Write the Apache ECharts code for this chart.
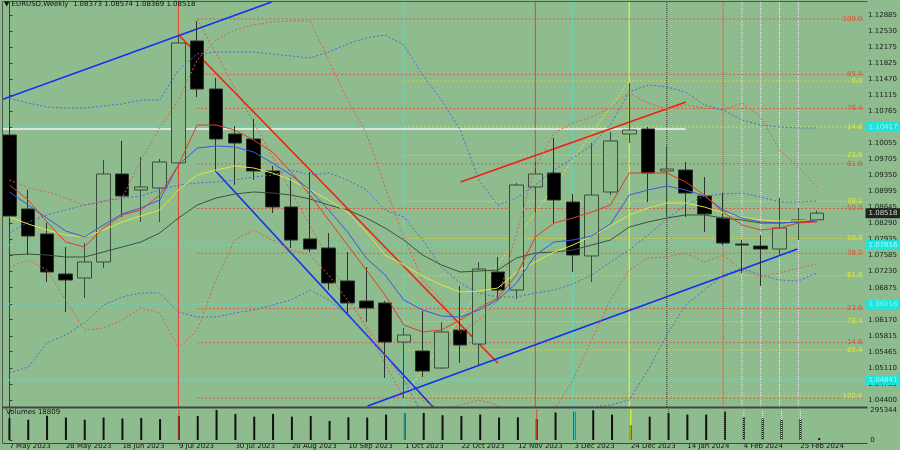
<!DOCTYPE html>
<html><head><meta charset="utf-8">
<script src="https://cdn.jsdelivr.net/npm/echarts@6/dist/echarts.min.js"></script>
<style>html,body{margin:0;padding:0;background:#8FBC8F;}#c{width:900px;height:450px;}</style>
</head><body><div id="c"></div>
<script>
// ---------------- data ----------------
const dates = ['7 May 2023','14 May 2023','21 May 2023','28 May 2023','4 Jun 2023','11 Jun 2023','18 Jun 2023','25 Jun 2023','2 Jul 2023','9 Jul 2023','16 Jul 2023','23 Jul 2023','30 Jul 2023','6 Aug 2023','13 Aug 2023','20 Aug 2023','27 Aug 2023','3 Sep 2023','10 Sep 2023','17 Sep 2023','24 Sep 2023','1 Oct 2023','8 Oct 2023','15 Oct 2023','22 Oct 2023','29 Oct 2023','5 Nov 2023','12 Nov 2023','19 Nov 2023','26 Nov 2023','3 Dec 2023','10 Dec 2023','17 Dec 2023','24 Dec 2023','31 Dec 2023','7 Jan 2024','14 Jan 2024','21 Jan 2024','28 Jan 2024','4 Feb 2024','11 Feb 2024','18 Feb 2024','25 Feb 2024','3 Mar 2024'];
const opens  = [1.10241,1.08610,1.08059,1.07177,1.07089,1.07442,1.09381,1.09029,1.09073,1.09624,1.12313,1.11255,1.10263,1.10153,1.09447,1.08654,1.07949,1.07750,1.07023,1.06582,1.06538,1.05678,1.05480,1.05105,1.05943,1.05634,1.07221,1.06824,1.09095,1.09403,1.08764,1.07574,1.08984,1.10263,1.10373,1.09447,1.09469,1.08896,1.08411,1.07838,1.07794,1.07728,1.08323,1.08373];
const closes = [1.08455,1.08015,1.07221,1.07045,1.07442,1.09381,1.08896,1.09095,1.09646,1.12269,1.11255,1.10153,1.10064,1.09447,1.08654,1.07926,1.07728,1.06979,1.06538,1.06428,1.05678,1.05833,1.05039,1.05899,1.05612,1.07287,1.06824,1.09139,1.09381,1.08808,1.07596,1.08918,1.10109,1.10351,1.09403,1.09491,1.08962,1.08500,1.07860,1.07816,1.07728,1.08191,1.08367,1.08518];
const lows   = [1.08191,1.07596,1.07001,1.06340,1.06648,1.07309,1.08433,1.08323,1.08323,1.09580,1.11078,1.09425,1.09139,1.09249,1.08522,1.07750,1.07662,1.06824,1.06318,1.06119,1.04885,1.04444,1.04907,1.05083,1.05216,1.05171,1.06604,1.06626,1.08522,1.08279,1.07221,1.06998,1.08918,1.10064,1.08764,1.08433,1.08433,1.08103,1.07816,1.07199,1.06913,1.07574,1.07926,1.08369];
const highs  = [1.10527,1.09029,1.08301,1.07772,1.07860,1.09690,1.10109,1.09756,1.09712,1.12423,1.12753,1.11497,1.10439,1.10593,1.09558,1.09293,1.09425,1.08081,1.07662,1.07331,1.06582,1.05987,1.06362,1.06119,1.06913,1.07442,1.07552,1.09183,1.09646,1.10175,1.08940,1.10064,1.10307,1.11387,1.10417,1.09976,1.09646,1.09315,1.08962,1.07926,1.08037,1.08852,1.08632,1.08574];
const volumes = [214800,199600,239000,221000,199600,221000,212100,217500,205900,235400,235400,295344,256900,230000,256900,230000,235400,188000,223800,221000,250600,265800,265800,244300,235400,250600,221000,223800,205900,271200,280100,292700,250600,145900,230000,265800,250600,250600,280100,226400,212100,196900,205900,18809];

const maRed    = [1.09139,1.08808,1.08323,1.07882,1.07772,1.08191,1.08478,1.08588,1.08918,1.09580,1.10461,1.10461,1.10351,1.10131,1.09866,1.09425,1.08918,1.08367,1.07816,1.07265,1.06714,1.06053,1.05899,1.05943,1.06163,1.06428,1.06648,1.07155,1.07993,1.08301,1.08411,1.08544,1.08698,1.09403,1.09403,1.09403,1.09205,1.08918,1.08544,1.08257,1.08147,1.08191,1.08301,1.08323];
const maBlue   = [1.08985,1.08698,1.08411,1.08125,1.07993,1.08257,1.08500,1.08632,1.08808,1.09580,1.09954,1.09998,1.09976,1.09866,1.09624,1.09359,1.09029,1.08588,1.08103,1.07530,1.07155,1.06604,1.06384,1.06251,1.06229,1.06384,1.06604,1.06979,1.07596,1.07882,1.07927,1.08015,1.08279,1.08918,1.09029,1.09117,1.09029,1.08896,1.08588,1.08411,1.08323,1.08301,1.08323,1.08367];
const maYellow = [1.08433,1.08279,1.08147,1.08037,1.07993,1.08147,1.08323,1.08456,1.08588,1.09029,1.09359,1.09469,1.09558,1.09514,1.09403,1.09249,1.09029,1.08808,1.08544,1.08103,1.07596,1.07376,1.07133,1.06935,1.06780,1.06802,1.06869,1.07221,1.07442,1.07662,1.07816,1.08015,1.08235,1.08478,1.08632,1.08742,1.08742,1.08654,1.08522,1.08433,1.08367,1.08345,1.08345,1.08367];
const maGray   = [1.07596,1.07618,1.07596,1.07552,1.07552,1.07662,1.07772,1.07882,1.08081,1.08411,1.08698,1.08852,1.08940,1.08985,1.08962,1.08918,1.08830,1.08698,1.08588,1.08411,1.08191,1.07927,1.07596,1.07376,1.07221,1.07243,1.07265,1.07530,1.07640,1.07662,1.07706,1.07816,1.07927,1.08213,1.08323,1.08411,1.08478,1.08478,1.08411,1.08367,1.08301,1.08301,1.08323,1.08345];
const bandBlueUp  = [1.11056,1.10946,1.10858,1.10836,1.10836,1.10880,1.10924,1.11012,1.11012,1.11674,1.12026,1.12070,1.12070,1.12070,1.12026,1.11982,1.11938,1.12070,1.12247,1.12379,1.12445,1.12225,1.11563,1.11012,1.10351,1.09249,1.08698,1.08852,1.09139,1.09469,1.09734,1.10020,1.10461,1.11189,1.11343,1.11299,1.11189,1.10902,1.10792,1.10571,1.10461,1.10417,1.10395,1.10395];
const bandBlueMid = [1.08081,1.08323,1.08478,1.08588,1.08698,1.08786,1.08852,1.08896,1.09029,1.09139,1.09183,1.09205,1.09249,1.09315,1.09359,1.09469,1.09359,1.09403,1.09249,1.09029,1.08588,1.08433,1.07927,1.07331,1.06979,1.06758,1.06670,1.06670,1.06758,1.06824,1.06957,1.07155,1.07442,1.07706,1.08037,1.08389,1.08698,1.08896,1.08940,1.08962,1.08874,1.08764,1.08764,1.08786];
const bandBlueLow = [1.04995,1.05127,1.05656,1.05833,1.06097,1.06494,1.06670,1.06758,1.06758,1.06340,1.06229,1.06229,1.06318,1.06384,1.06494,1.06604,1.06824,1.06604,1.06273,1.05833,1.05392,1.04841,1.04069,1.03959,1.04069,1.04224,1.04246,1.04224,1.04224,1.04246,1.04246,1.04246,1.04290,1.04400,1.05061,1.05833,1.06494,1.06824,1.07155,1.07309,1.07155,1.07045,1.07023,1.07199];
const bandRedUp   = [1.09249,1.09073,1.08985,1.08852,1.08698,1.08764,1.08852,1.09690,1.10395,1.11012,1.11894,1.12335,1.12555,1.12665,1.12732,1.12754,1.12754,1.11894,1.11012,1.10285,1.09095,1.07993,1.07045,1.06604,1.05877,1.06163,1.06604,1.08081,1.09536,1.10285,1.10505,1.10638,1.10836,1.11167,1.10946,1.10814,1.10902,1.10836,1.10792,1.10946,1.10638,1.09910,1.09536,1.09095];
const bandRedLow  = [1.07331,1.07486,1.07265,1.06604,1.05943,1.05987,1.06163,1.06428,1.06318,1.05546,1.05943,1.07045,1.07927,1.08147,1.07927,1.07706,1.07596,1.07155,1.06604,1.06053,1.05392,1.04841,1.04400,1.04180,1.04290,1.04400,1.04290,1.03959,1.03959,1.04180,1.04841,1.05722,1.06604,1.07265,1.07530,1.07552,1.07640,1.07442,1.07596,1.07265,1.07111,1.07199,1.07309,1.07398];

const priceTicks = [1.04400,1.04755,1.05110,1.05465,1.05815,1.06170,1.06520,1.06875,1.07230,1.07585,1.07935,1.08290,1.08645,1.08995,1.09350,1.09705,1.10055,1.10410,1.10765,1.11115,1.11470,1.11825,1.12175,1.12530,1.12885];
const volumeMax = 295344;
const currentVolume = 18809;

const fibLevels = [0.0,14.6,23.6,38.2,50.0,61.8,76.4,85.4,100.0];
const fibRed    = {from:'16 Jul 2023', high:1.12797, low:1.04444, lowDate:'1 Oct 2023'};
const fibYellow = {from:'1 Oct 2023', low:1.04488, high:1.11431, highDate:'24 Dec 2023'};
const cyanLevels = [1.10417,1.07816,1.06516,1.04841];
const whiteLevel = {price:1.10373, until:'14 Jan 2024'};
// trend lines: [bar index, price] anchors
const trendBlueTop  = [[-0.5,1.11004],[13.96,1.13172]];
const trendRedDown  = [[9.07,1.12423],[26.0,1.05215]];
const trendBlueDown = [[11.02,1.09425],[22.6,1.04224]];
const trendBlueUp   = [[19.07,1.04268],[41.96,1.07728]];
const trendRedUp    = [[24.02,1.09205],[36.02,1.10968]];
const vLineDates  = ['9 Jul 2023','1 Oct 2023','19 Nov 2023','3 Dec 2023','24 Dec 2023','7 Jan 2024','28 Jan 2024','4 Feb 2024','11 Feb 2024','18 Feb 2024','25 Feb 2024'];

// ---------------- styling ----------------
const BG = '#8FBC8F';
const FONT = 'DejaVu Sans';
const vLineStyles = [
  {c:'#e8402a',t:'solid'},{c:'#46e0d0',t:'solid'},{c:'#e8402a',t:'solid'},{c:'#46e0d0',t:'solid'},
  {c:'#ffff00',t:'solid'},{c:'#2a2a2a',t:'dotted'},{c:'#e8402a',t:'dotted'},
  {c:'#f4f4f4',t:'dotted'},{c:'#f4f4f4',t:'dotted'},{c:'#f4f4f4',t:'dotted'},{c:'#f4f4f4',t:'dotted'}
];
const cats = dates.concat(['','']);
const X0 = -0.5, X1 = cats.length - 0.5;
const YMIN = 1.04246, YMAX = 1.13172;
const idx = d => dates.indexOf(d);

const series = [];
const labelPts = [];   // text labels drawn through a scatter series
// vertical lines (background)
vLineDates.forEach((d,k)=>{
  const i = idx(d), st = vLineStyles[k];
  series.push({type:'line', xAxisIndex:1, yAxisIndex:0, data:[[i,YMIN],[i,YMAX]], symbol:'none', silent:true, z:1,
    lineStyle:{color:st.c, type:st.t, width:1}});
  series.push({type:'line', xAxisIndex:3, yAxisIndex:1, data:[[i,0],[i,volumeMax*1.05]], symbol:'none', silent:true, z:3,
    lineStyle:{color:st.c, type:st.t, width:1}});
});
// cyan horizontal levels
cyanLevels.forEach(p=>{
  series.push({type:'line', xAxisIndex:1, yAxisIndex:0, data:[[X0,p],[X1,p]], symbol:'none', silent:true, z:1,
    lineStyle:{color:'#40e8e0', type:[2,2], width:1}});
  labelPts.push({value:[X1-0.001,p], label:{position:'right', distance:1, offset:[0,0], formatter:p.toFixed(5),
    backgroundColor:'#00f0f0', color:'#c8ffff', padding:[2,3,1,3]}});
});
// white level
series.push({type:'line', xAxisIndex:1, yAxisIndex:0, symbol:'none', silent:true, z:1,
  data:[[X0,whiteLevel.price],[idx(whiteLevel.until),whiteLevel.price]], lineStyle:{color:'#f4f4f4', width:1.5}});
// fibonacci
function fibSeries(f, color, labColor, dir, showZero){
  const start = idx(f.from);
  fibLevels.forEach(L=>{
    const p = dir>0 ? f.low + (f.high-f.low)*L/100 : f.high - (f.high-f.low)*L/100;
    series.push({type:'line', xAxisIndex:1, yAxisIndex:0, symbol:'none', silent:true, z:1,
      data:[[start,p],[X1,p]], lineStyle:{color:color, type:[2,2], width:1}});
    if (showZero || L!==0) labelPts.push({value:[X1-0.001,p], label:{position:'left', distance:1, offset:[0,-4],
      formatter:L.toFixed(1), color:labColor}});
  });
}
fibSeries(fibRed, '#dc5a40', '#f03a20', 1, false);
fibSeries(fibYellow, '#d8d040', '#f0f030', -1, true);
// fib diagonals
series.push({type:'line', xAxisIndex:1, yAxisIndex:0, symbol:'none', silent:true, z:1,
  data:[[idx(fibRed.from),fibRed.high],[idx(fibRed.lowDate),fibRed.low]], lineStyle:{color:'#dc5a40', type:[2,2], width:1}});
series.push({type:'line', xAxisIndex:1, yAxisIndex:0, symbol:'none', silent:true, z:1,
  data:[[idx(fibYellow.from),fibYellow.low],[idx(fibYellow.highDate),fibYellow.high]], lineStyle:{color:'#e8e840', type:[2,2], width:1}});
// trend lines
[[trendBlueTop,'#1030f0'],[trendRedDown,'#f02010'],[trendBlueDown,'#1030f0'],[trendBlueUp,'#1030f0'],[trendRedUp,'#f02010']].forEach(([d,c])=>{
  series.push({type:'line', xAxisIndex:1, yAxisIndex:0, symbol:'none', silent:true, z:1, data:d, lineStyle:{color:c, width:1.6}});
});
// candles
series.push({type:'candlestick', xAxisIndex:0, yAxisIndex:0, z:2, barWidth:14, silent:true,
  data: opens.map((o,i)=>[o, closes[i], lows[i], highs[i]]),
  itemStyle:{color:BG, color0:'#000000', borderColor:'#3a4c3a', borderColor0:'#2a322a', borderWidth:1}});
const lastClose = closes[closes.length-1];
labelPts.push({value:[X1-0.001,lastClose], label:{position:'right', distance:1, offset:[0,0], formatter:lastClose.toFixed(5),
  backgroundColor:'#000000', color:'#ffffff', padding:[2,3,1,3]}});
// indicators
function ind(data, color, type, w){
  series.push({type:'line', xAxisIndex:0, yAxisIndex:0, data:data, symbol:'none', silent:true, z:3,
    lineStyle:{color:color, type:type, width:w}});
}
ind(bandBlueUp, '#4a68d8', [2,2], 1);
ind(bandBlueMid, '#4a68d8', [2,2], 1);
ind(bandBlueLow, '#4a68d8', [2,2], 1);
ind(bandRedUp, '#d86048', [2,2], 1);
ind(bandRedLow, '#d86048', [2,2], 1);
ind(maGray, '#3c5040', 'solid', 1);
ind(maYellow, '#e4e43c', 'solid', 1);
ind(maBlue, '#3858e0', 'solid', 1);
ind(maRed, '#e03a28', 'solid', 1);
// labels
series.push({type:'scatter', xAxisIndex:1, yAxisIndex:0, z:20, silent:true, clip:false, symbolSize:1,
  itemStyle:{color:'rgba(0,0,0,0)'}, data:labelPts,
  label:{show:true, fontSize:7, fontFamily:FONT}, labelLayout:{hideOverlap:false}});
// volumes
series.push({type:'bar', xAxisIndex:2, yAxisIndex:1, data:volumes, barWidth:2, silent:true, z:2, itemStyle:{color:'#111111'}});

const last = opens.length-1;
const header = '\u25BC EURUSD,Weekly  ' + [opens[last],highs[last],lows[last],closes[last]].map(v=>v.toFixed(5)).join(' ');

const option = {
  animation:false,
  backgroundColor:BG,
  grid:[{left:-6.8, top:2, width:874, height:405}, {left:-6.8, top:410, width:874, height:33}],
  xAxis:[
    {type:'category', gridIndex:0, data:cats, boundaryGap:true, show:false},
    {type:'value', gridIndex:0, min:X0, max:X1, show:false},
    {type:'category', gridIndex:1, data:cats, boundaryGap:true, axisLine:{show:false}, axisTick:{show:false},
      axisLabel:{interval:2, align:'left', fontSize:7, margin:3, color:'#111', fontFamily:FONT}},
    {type:'value', gridIndex:1, min:X0, max:X1, show:false}
  ],
  yAxis:[
    {type:'value', gridIndex:0, position:'right', min:YMIN, max:YMAX, splitLine:{show:false},
      axisLine:{show:true, lineStyle:{color:'#3a3a3a', width:1}},
      axisTick:{show:true, length:3, customValues:priceTicks, lineStyle:{color:'#3a3a3a'}},
      axisLabel:{customValues:priceTicks, formatter:v=>v.toFixed(5), fontSize:7, margin:4, color:'#1a1a1a', fontFamily:FONT}},
    {type:'value', gridIndex:1, position:'right', min:0, max:volumeMax, interval:volumeMax, splitLine:{show:false},
      axisLine:{show:true, lineStyle:{color:'#3a3a3a', width:1}},
      axisTick:{show:true, length:3, lineStyle:{color:'#3a3a3a'}},
      axisLabel:{fontSize:7, margin:4, color:'#1a1a1a', fontFamily:FONT, formatter:v=>String(v)}}
  ],
  graphic:[
    {type:'rect', shape:{x:0,y:0,width:2.5,height:450}, style:{fill:BG}, z:100},
    {type:'line', shape:{x1:2.5,y1:1.5,x2:867.5,y2:1.5}, style:{stroke:'#505850', lineWidth:1}, z:100},
    {type:'line', shape:{x1:2.5,y1:1.5,x2:2.5,y2:443}, style:{stroke:'#505850', lineWidth:1}, z:100},
    {type:'line', shape:{x1:2.5,y1:407.5,x2:867.5,y2:407.5}, style:{stroke:'#404840', lineWidth:2}, z:100},
    {type:'line', shape:{x1:2.5,y1:443.5,x2:867.5,y2:443.5}, style:{stroke:'#404840', lineWidth:1}, z:100},
    {type:'text', x:4, y:1, style:{text:header, font:'7px "DejaVu Sans"', fill:'#111'}, z:101},
    {type:'text', x:6, y:409, style:{text:'Volumes ' + currentVolume, font:'7px "DejaVu Sans"', fill:'#111'}, z:101}
  ],
  series:series
};
const chart = echarts.init(document.getElementById('c'), null, {renderer:'canvas'});
chart.setOption(option);
</script>
</body></html>
